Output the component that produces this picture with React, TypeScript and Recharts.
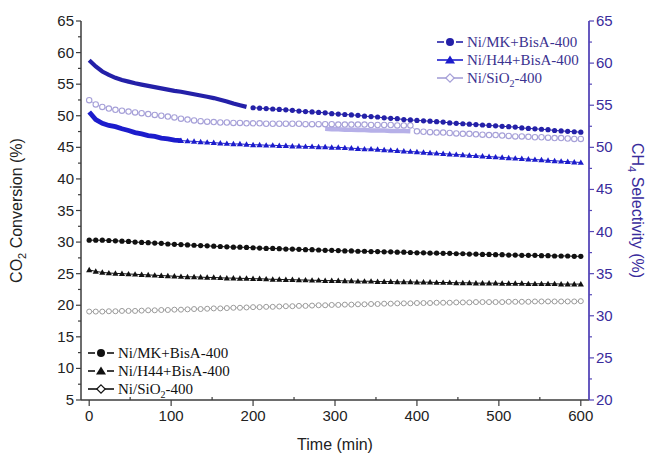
import React from 'react';
import { LineChart, Line, XAxis, YAxis } from 'recharts';

// sample times (min)
const times = [
  0, 8, 16, 24, 32, 40, 48, 56, 64, 72,
  80, 88, 96, 104, 112, 120, 128, 136, 144, 152,
  160, 168, 176, 184, 192, 200, 208, 216, 224, 232,
  240, 248, 256, 264, 272, 280, 288, 296, 304, 312,
  320, 328, 336, 344, 352, 360, 368, 376, 384, 392,
  400, 408, 416, 424, 432, 440, 448, 456, 464, 472,
  480, 488, 496, 504, 512, 520, 528, 536, 544, 552,
  560, 568, 576, 584, 592, 600,
];

const xTicks = [0, 50, 100, 150, 200, 250, 300, 350, 400, 450, 500, 550, 600];
const leftTicks = [5, 7.5, 10, 12.5, 15, 17.5, 20, 22.5, 25, 27.5, 30, 32.5, 35, 37.5, 40, 42.5, 45, 47.5, 50, 52.5, 55, 57.5, 60, 62.5, 65];
const rightTicks = [20, 22.5, 25, 27.5, 30, 32.5, 35, 37.5, 40, 42.5, 45, 47.5, 50, 52.5, 55, 57.5, 60, 62.5, 65];

// CO2 conversion (%), left axis
const mkConv = [
  30.3, 30.3, 30.3, 30.25, 30.2, 30.15, 30.1, 30.0, 29.95, 29.9,
  29.85, 29.8, 29.7, 29.65, 29.6, 29.55, 29.5, 29.45, 29.4, 29.35,
  29.3, 29.25, 29.2, 29.2, 29.15, 29.1, 29.05, 29.0, 29.0, 28.95,
  28.9, 28.9, 28.85, 28.8, 28.8, 28.75, 28.7, 28.7, 28.65, 28.6,
  28.6, 28.55, 28.55, 28.5, 28.5, 28.45, 28.45, 28.4, 28.4, 28.35,
  28.3, 28.3, 28.25, 28.25, 28.2, 28.2, 28.15, 28.15, 28.1, 28.1,
  28.05, 28.05, 28.0, 28.0, 27.95, 27.95, 27.9, 27.9, 27.9, 27.85,
  27.85, 27.8, 27.8, 27.8, 27.75, 27.75,
];
const h44Conv = [
  25.6, 25.35, 25.2, 25.1, 25.05, 25.0, 24.95, 24.9, 24.85, 24.8,
  24.75, 24.7, 24.65, 24.6, 24.55, 24.5, 24.5, 24.45, 24.4, 24.4,
  24.35, 24.3, 24.3, 24.25, 24.25, 24.2, 24.2, 24.15, 24.1, 24.1,
  24.05, 24.05, 24.0, 24.0, 23.95, 23.95, 23.9, 23.9, 23.9, 23.85,
  23.85, 23.8, 23.8, 23.8, 23.75, 23.75, 23.75, 23.7, 23.7, 23.7,
  23.65, 23.65, 23.65, 23.6, 23.6, 23.6, 23.55, 23.55, 23.55, 23.5,
  23.5, 23.5, 23.5, 23.45, 23.45, 23.45, 23.45, 23.4, 23.4, 23.4,
  23.4, 23.4, 23.35, 23.35, 23.35, 23.35,
];
const sio2Conv = [
  19.0, 19.0, 19.0, 19.05, 19.05, 19.1, 19.1, 19.1, 19.15, 19.2,
  19.2, 19.25, 19.25, 19.3, 19.3, 19.35, 19.4, 19.4, 19.45, 19.5,
  19.5, 19.55, 19.6, 19.6, 19.65, 19.7, 19.7, 19.75, 19.75, 19.8,
  19.85, 19.85, 19.9, 19.9, 19.95, 20.0, 20.0, 20.05, 20.05, 20.1,
  20.1, 20.15, 20.15, 20.2, 20.2, 20.25, 20.25, 20.3, 20.3, 20.3,
  20.35, 20.35, 20.35, 20.4, 20.4, 20.4, 20.45, 20.45, 20.45, 20.5,
  20.5, 20.5, 20.5, 20.5, 20.55, 20.55, 20.55, 20.55, 20.6, 20.6,
  20.6, 20.6, 20.6, 20.6, 20.6, 20.65,
];

// CH4 selectivity (%), right axis
// dense early measurements (drawn as a thick trace), t = 0..192
const mkSelLine = [
  60.35, 59.6, 59.0, 58.6, 58.25, 58.0, 57.8, 57.6, 57.45, 57.3,
  57.15, 57.0, 56.85, 56.7, 56.6, 56.45, 56.3, 56.15, 56.0, 55.85,
  55.65, 55.45, 55.2, 55.0, 54.8,
];
// t = 200..600
const mkSelDots = [
  54.7, 54.65, 54.6, 54.55, 54.5,
  54.45, 54.4, 54.3, 54.25, 54.2, 54.15, 54.1, 54.0, 53.95, 53.9,
  53.85, 53.8, 53.7, 53.65, 53.6, 53.5, 53.45, 53.4, 53.3, 53.25,
  53.2, 53.15, 53.1, 53.05, 53.0, 52.9, 52.85, 52.8, 52.75, 52.7,
  52.65, 52.6, 52.55, 52.5, 52.45, 52.4, 52.3, 52.25, 52.2, 52.15,
  52.1, 52.0, 51.95, 51.9, 51.85, 51.8,
];
// t = 0..112
const h44SelLine = [
  54.2, 53.3, 52.85, 52.6, 52.45, 52.2, 52.0, 51.75, 51.6, 51.4,
  51.3, 51.1, 51.0, 50.85, 50.8,
];
// t = 112..600
const h44SelDots = [
  50.8, 50.75, 50.7, 50.65, 50.6, 50.55,
  50.5, 50.45, 50.4, 50.4, 50.35, 50.3, 50.3, 50.25, 50.25, 50.2,
  50.2, 50.15, 50.15, 50.1, 50.1, 50.05, 50.05, 50.0, 50.0, 49.95,
  49.9, 49.85, 49.8, 49.8, 49.75, 49.7, 49.65, 49.6, 49.55, 49.5,
  49.45, 49.4, 49.35, 49.3, 49.25, 49.2, 49.15, 49.1, 49.05, 49.0,
  48.95, 48.9, 48.85, 48.8, 48.75, 48.7, 48.65, 48.6, 48.55, 48.5,
  48.45, 48.4, 48.35, 48.3, 48.25, 48.2,
];
// t = 0..600
const sio2SelDots = [
  55.6, 55.1, 54.8, 54.6, 54.45, 54.35, 54.25, 54.15, 54.05, 53.95,
  53.85, 53.75, 53.65, 53.55, 53.4, 53.3, 53.2, 53.1, 53.05, 53.0,
  52.95, 52.95, 52.9, 52.9, 52.85, 52.85, 52.85, 52.8, 52.8, 52.8,
  52.8, 52.8, 52.8, 52.75, 52.75, 52.75, 52.75, 52.75, 52.7, 52.7,
  52.7, 52.7, 52.7, 52.65, 52.65, 52.65, 52.65, 52.6, 52.6, 52.6,
  51.9, 51.85, 51.8, 51.75, 51.75, 51.7, 51.65, 51.6, 51.6, 51.55,
  51.5, 51.45, 51.45, 51.4, 51.35, 51.3, 51.3, 51.25, 51.2, 51.2,
  51.15, 51.1, 51.1, 51.05, 51.0, 51.0,
];
// dense segment, t = 288..392
const sio2SelBand = [
  52.2, 52.15, 52.15, 52.1, 52.1, 52.05, 52.05, 52.0, 52.0, 52.0,
  51.95, 51.95, 51.95, 51.9,
];

const seriesNames = [
  ['Ni/MK+BisA-400', '', ''],
  ['Ni/H44+BisA-400', '', ''],
  ['Ni/SiO', '2', '-400'],
];

const toPts = (ts: number[], vs: number[]) => vs.map((v, i) => ({ t: ts[i], v }));

const mkConvData = toPts(times, mkConv);
const h44ConvData = toPts(times, h44Conv);
const sio2ConvData = toPts(times, sio2Conv);
const mkSelLineData = toPts(times.slice(0, 25), mkSelLine);
const mkSelDotsData = toPts(times.slice(25), mkSelDots);
const h44SelLineData = toPts(times.slice(0, 15), h44SelLine);
const h44SelDotsData = toPts(times.slice(14), h44SelDots);
const sio2SelDotsData = toPts(times, sio2SelDots);
const sio2SelBandData = toPts(times.slice(36, 50), sio2SelBand);

const SANS = '"Liberation Sans", Arial, sans-serif';
const SERIF = '"Liberation Serif", "Times New Roman", serif';
const AXIS = '#3c3c3c';
const PURPLE_AXIS = '#5647b8';
const PURPLE_TEXT = '#3a2c9c';
const MK_SEL = '#2420a8';
const H44_SEL = '#1c1ccc';
const SIO2_SEL = '#a6a0d8';
const SIO2_BAND = '#b6b0e8';

const LeftTick = (props: any) => {
  const { x, y, payload } = props;
  const v = payload.value;
  const major = v % 5 === 0;
  return (
    <g>
      <line x1={x - (major ? 5 : 3)} x2={x} y1={y} y2={y} stroke={AXIS} strokeWidth={1.2} />
      {major && (
        <text x={x - 7} y={y} dy={5} textAnchor="end" fontSize={15} fill="#222" fontFamily={SANS}>
          {v}
        </text>
      )}
    </g>
  );
};

const RightTick = (props: any) => {
  const { x, y, payload } = props;
  const v = payload.value;
  const major = v % 5 === 0;
  return (
    <g>
      <line x1={x} x2={x + (major ? 5 : 3)} y1={y} y2={y} stroke={PURPLE_AXIS} strokeWidth={1.2} />
      {major && (
        <text x={x + 7} y={y} dy={5} textAnchor="start" fontSize={15} fill={PURPLE_TEXT} fontFamily={SANS}>
          {v}
        </text>
      )}
    </g>
  );
};

const BottomTick = (props: any) => {
  const { x, y, payload } = props;
  const v = payload.value;
  const major = v % 100 === 0;
  return (
    <g>
      {major ? (
        <line x1={x} x2={x} y1={y} y2={y + 6} stroke={AXIS} strokeWidth={1.2} />
      ) : (
        <line x1={x} x2={x} y1={y - 3} y2={y} stroke={AXIS} strokeWidth={1.2} />
      )}
      {major && (
        <text x={x} y={y + 21} textAnchor="middle" fontSize={15} fill="#222" fontFamily={SANS}>
          {v}
        </text>
      )}
    </g>
  );
};

const TopTick = (props: any) => {
  const { x, y, payload } = props;
  const major = payload.value % 100 === 0;
  return <line x1={x} x2={x} y1={y} y2={y + (major ? 6 : 3)} stroke={AXIS} strokeWidth={1.2} />;
};

const triDot = (color: string, s: number) => (props: any) => {
  const { cx, cy, index } = props;
  if (cx == null || cy == null) return <g key={`t${index}`} />;
  return (
    <path
      key={`t${index}`}
      d={`M${cx},${cy - s} L${cx + s},${cy + s * 0.75} L${cx - s},${cy + s * 0.75} Z`}
      fill={color}
    />
  );
};

const LeftTitle = (props: any) => {
  const vb = props.viewBox;
  const cx = vb.x - 19;
  const cy = vb.y + vb.height / 2;
  return (
    <text transform={`translate(${cx},${cy}) rotate(-90)`} textAnchor="middle" fontSize={16} fill="#222" fontFamily={SANS}>
      <tspan>CO</tspan>
      <tspan dy={4} fontSize={11}>2</tspan>
      <tspan dy={-4}> Conversion (%)</tspan>
    </text>
  );
};

const RightTitle = (props: any) => {
  const vb = props.viewBox;
  const cx = vb.x + 43;
  const cy = vb.y + vb.height / 2;
  return (
    <text transform={`translate(${cx},${cy}) rotate(90)`} textAnchor="middle" fontSize={16} fill={PURPLE_TEXT} fontFamily={SANS}>
      <tspan>CH</tspan>
      <tspan dy={4} fontSize={11}>4</tspan>
      <tspan dy={-4}> Selectivity (%)</tspan>
    </text>
  );
};

const BottomTitle = (props: any) => {
  const vb = props.viewBox;
  return (
    <text x={vb.x + vb.width / 2} y={vb.y + 50} textAnchor="middle" fontSize={16} fill="#222" fontFamily={SANS}>
      Time (min)
    </text>
  );
};

const LegendIcon = ({ kind, color, dashed }: { kind: string; color: string; dashed?: boolean }) => (
  <svg width={28} height={14} style={{ display: 'block', flex: 'none' }}>
    {dashed ? (
      <>
        <line x1={1} x2={8} y1={7} y2={7} stroke={color} strokeWidth={1.6} />
        <line x1={20} x2={27} y1={7} y2={7} stroke={color} strokeWidth={1.6} />
      </>
    ) : (
      <line x1={1} x2={27} y1={7} y2={7} stroke={color} strokeWidth={1.6} />
    )}
    {kind === 'circle' && <circle cx={14} cy={7} r={4} fill={color} />}
    {kind === 'tri' && <path d="M14,2.5 L19,10.5 L9,10.5 Z" fill={color} />}
    {kind === 'diamond' && <path d="M14,2.8 L18.2,7 L14,11.2 L9.8,7 Z" fill="#fff" stroke={color} strokeWidth={1.2} />}
  </svg>
);

const LegendBlock = ({
  left, top, textColor, items,
}: {
  left: number; top: number; textColor: string;
  items: { name: string[]; kind: string; color: string; dashed?: boolean }[];
}) => (
  <div style={{ position: 'absolute', left, top, fontFamily: SERIF, fontSize: 15, color: textColor, lineHeight: '18px' }}>
    {items.map((it, i) => (
      <div key={i} style={{ display: 'flex', alignItems: 'center', height: 18, whiteSpace: 'nowrap' }}>
        <LegendIcon kind={it.kind} color={it.color} dashed={it.dashed} />
        <span style={{ marginLeft: 3 }}>
          {it.name[0]}
          {it.name[1] && <sub style={{ fontSize: 10, verticalAlign: 'sub', lineHeight: 0 }}>{it.name[1]}</sub>}
          {it.name[2]}
        </span>
      </div>
    ))}
  </div>
);

export default function App() {
  return (
    <div style={{ position: 'absolute', left: 0, top: 0, width: 651, height: 456, background: '#fff' }}>
      <LineChart width={651} height={456} margin={{ top: 21, right: 22, bottom: 26, left: 41 }}>
        <XAxis
          xAxisId="b"
          dataKey="t"
          type="number"
          domain={[-10, 610]}
          ticks={xTicks}
          interval={0}
          tick={<BottomTick />}
          tickLine={false}
          tickSize={0}
          tickMargin={0}
          height={30}
          axisLine={{ stroke: AXIS, strokeWidth: 1.5 }}
          allowDataOverflow
          label={{ content: BottomTitle }}
        />
        <XAxis
          xAxisId="top"
          orientation="top"
          dataKey="t"
          type="number"
          domain={[-10, 610]}
          ticks={xTicks}
          interval={0}
          tick={<TopTick />}
          tickLine={false}
          tickSize={0}
          tickMargin={0}
          height={0}
          axisLine={{ stroke: AXIS, strokeWidth: 1.5 }}
          allowDataOverflow
        />
        <YAxis
          yAxisId="left"
          type="number"
          domain={[5, 65]}
          ticks={leftTicks}
          interval={0}
          tick={<LeftTick />}
          tickLine={false}
          tickSize={0}
          tickMargin={0}
          width={40}
          axisLine={{ stroke: AXIS, strokeWidth: 1.5 }}
          allowDataOverflow
          label={{ content: LeftTitle }}
        />
        <YAxis
          yAxisId="right"
          orientation="right"
          type="number"
          domain={[20, 65]}
          ticks={rightTicks}
          interval={0}
          tick={<RightTick />}
          tickLine={false}
          tickSize={0}
          tickMargin={0}
          width={40}
          axisLine={{ stroke: PURPLE_AXIS, strokeWidth: 1.8 }}
          allowDataOverflow
          label={{ content: RightTitle }}
        />

        {/* CO2 conversion */}
        <Line xAxisId="b" yAxisId="left" data={sio2ConvData} dataKey="v" stroke="#9a9a9a" strokeWidth={0.8}
          dot={{ r: 2.5, fill: '#fff', stroke: '#9a9a9a', strokeWidth: 1 }} activeDot={false} isAnimationActive={false} />
        <Line xAxisId="b" yAxisId="left" data={h44ConvData} dataKey="v" stroke="#111" strokeWidth={1}
          dot={triDot('#111', 3.1)} activeDot={false} isAnimationActive={false} />
        <Line xAxisId="b" yAxisId="left" data={mkConvData} dataKey="v" stroke="#111" strokeWidth={1}
          dot={{ r: 2.6, fill: '#111', stroke: 'none' }} activeDot={false} isAnimationActive={false} />

        {/* CH4 selectivity */}
        <Line xAxisId="b" yAxisId="right" data={sio2SelBandData} dataKey="v" stroke={SIO2_BAND} strokeWidth={4.5}
          dot={false} activeDot={false} isAnimationActive={false} />
        <Line xAxisId="b" yAxisId="right" data={sio2SelDotsData} dataKey="v" stroke={SIO2_SEL} strokeWidth={0.8}
          dot={{ r: 2.7, fill: '#fff', stroke: SIO2_SEL, strokeWidth: 1.1 }} activeDot={false} isAnimationActive={false} />
        <Line xAxisId="b" yAxisId="right" data={h44SelLineData} dataKey="v" stroke={H44_SEL} strokeWidth={4.8}
          dot={false} activeDot={false} isAnimationActive={false} />
        <Line xAxisId="b" yAxisId="right" data={h44SelDotsData} dataKey="v" stroke={H44_SEL} strokeWidth={1}
          dot={triDot(H44_SEL, 3.1)} activeDot={false} isAnimationActive={false} />
        <Line xAxisId="b" yAxisId="right" data={mkSelLineData} dataKey="v" stroke={MK_SEL} strokeWidth={4.2}
          dot={false} activeDot={false} isAnimationActive={false} />
        <Line xAxisId="b" yAxisId="right" data={mkSelDotsData} dataKey="v" stroke={MK_SEL} strokeWidth={1}
          dot={{ r: 2.6, fill: MK_SEL, stroke: 'none' }} activeDot={false} isAnimationActive={false} />
      </LineChart>

      <LegendBlock
        left={436}
        top={33}
        textColor="#3b3290"
        items={[
          { name: seriesNames[0], kind: 'circle', color: MK_SEL, dashed: true },
          { name: seriesNames[1], kind: 'tri', color: H44_SEL },
          { name: seriesNames[2], kind: 'diamond', color: SIO2_SEL },
        ]}
      />
      <LegendBlock
        left={87}
        top={344}
        textColor="#111"
        items={[
          { name: seriesNames[0], kind: 'circle', color: '#111', dashed: true },
          { name: seriesNames[1], kind: 'tri', color: '#111', dashed: true },
          { name: seriesNames[2], kind: 'diamond', color: '#111' },
        ]}
      />
    </div>
  );
}
